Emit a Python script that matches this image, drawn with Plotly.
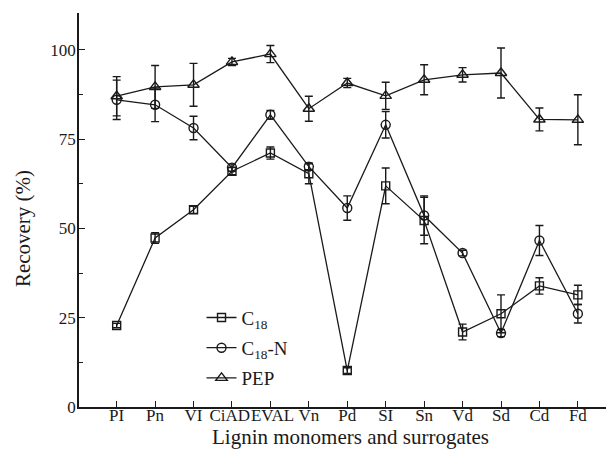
import plotly.graph_objects as go

categories = ["PI", "Pn", "VI", "CiAD", "EVAL", "Vn", "Pd", "SI", "Sn", "Vd", "Sd", "Cd", "Fd"]
tick_labels = ["PI", "Pn", "VI", "CiAD\u00a0", "\u00a0EVAL", "Vn", "Pd", "SI", "Sn", "Vd", "Sd", "Cd", "Fd"]

c18 = [22.8, 47.3, 55.2, 66.0, 71.1, 65.3, 10.2, 61.9, 52.2, 21.0, 26.1, 33.9, 31.4]
c18_err = [0.6, 1.5, 1.0, 1.0, 1.7, 2.8, 0.8, 5.0, 6.5, 2.2, 5.3, 2.3, 2.7]
c18n = [86.0, 84.6, 78.1, 67.0, 81.8, 67.3, 55.7, 79.0, 53.6, 43.1, 20.7, 46.6, 26.1]
c18n_err = [5.5, 4.7, 3.3, 1.0, 1.2, 1.0, 3.4, 3.7, 5.5, 0.8, 1.0, 4.2, 2.6]
pep = [87.0, 89.6, 90.2, 96.6, 98.8, 83.5, 90.7, 87.1, 91.6, 93.0, 93.5, 80.5, 80.4]
pep_err = [5.5, 6.0, 6.0, 1.0, 2.4, 3.5, 1.3, 3.8, 4.2, 2.0, 7.0, 3.2, 7.0]

FONT = "Liberation Serif, Times New Roman, serif"
INK = "#1a1a1a"

series = [
    ("C<sub>18</sub>", c18, c18_err, "square-open", 8),
    ("C<sub>18</sub>-N", c18n, c18n_err, "circle-open", 9),
    ("PEP", pep, pep_err, "triangle-up-open", 10),
]

fig = go.Figure()
for i, (name, vals, errs, sym, size) in enumerate(series):
    fig.add_trace(go.Scatter(
        x=categories, y=vals, name=name, mode="lines+markers",
        legendgroup=f"g{i}",
        line=dict(color=INK, width=1.3),
        marker=dict(symbol=sym, size=size, color=INK, line=dict(color=INK, width=1.4)),
        error_y=dict(type="data", array=errs, visible=True, color=INK, thickness=1.4, width=4),
    ))

# page has an 8px body margin, so the figure is sized/offset to compensate
fig.update_layout(
    width=606, height=451,
    margin=dict(l=71, r=0, t=5, b=52),
    paper_bgcolor="white", plot_bgcolor="white",
    font=dict(family=FONT, color=INK, size=17),
    showlegend=True,
    legend=dict(
        x=0.229, y=0.275, xanchor="left", yanchor="top",
        bgcolor="rgba(0,0,0,0)", borderwidth=0,
        font=dict(family=FONT, size=19, color=INK),
        traceorder="grouped", tracegroupgap=2.5,
    ),
    xaxis=dict(
        type="category", categoryorder="array", categoryarray=categories,
        range=[-0.98, 12.94],
        tickvals=categories, ticktext=tick_labels, tickangle=0,
        showline=True, linecolor=INK, linewidth=1.5,
        ticks="inside", ticklen=6, tickwidth=1.3, tickcolor=INK,
        ticklabelstandoff=-8,
        showgrid=False, zeroline=False,
        tickfont=dict(family=FONT, size=17, color=INK),
    ),
    yaxis=dict(
        range=[0, 110.3],
        tickmode="linear", tick0=0, dtick=25,
        showline=True, linecolor=INK, linewidth=1.5,
        ticks="inside", ticklen=6, tickwidth=1.3, tickcolor=INK,
        ticklabelstandoff=-2,
        minor=dict(tickmode="linear", tick0=0, dtick=12.5, ticks="inside", ticklen=4, tickwidth=1.2, tickcolor=INK),
        showgrid=False, zeroline=False,
        tickfont=dict(family=FONT, size=17, color=INK),
    ),
    annotations=[
        dict(text="Recovery (%)", xref="paper", yref="paper", x=-0.1047, y=0.454,
             xanchor="center", yanchor="middle", textangle=-90, showarrow=False,
             font=dict(family=FONT, size=21, color=INK)),
        dict(text="Lignin monomers and surrogates", xref="paper", yref="paper", x=0.508, y=-0.075,
             xanchor="center", yanchor="middle", showarrow=False,
             font=dict(family=FONT, size=21, color=INK)),
    ],
)

fig.write_html("out.html")
